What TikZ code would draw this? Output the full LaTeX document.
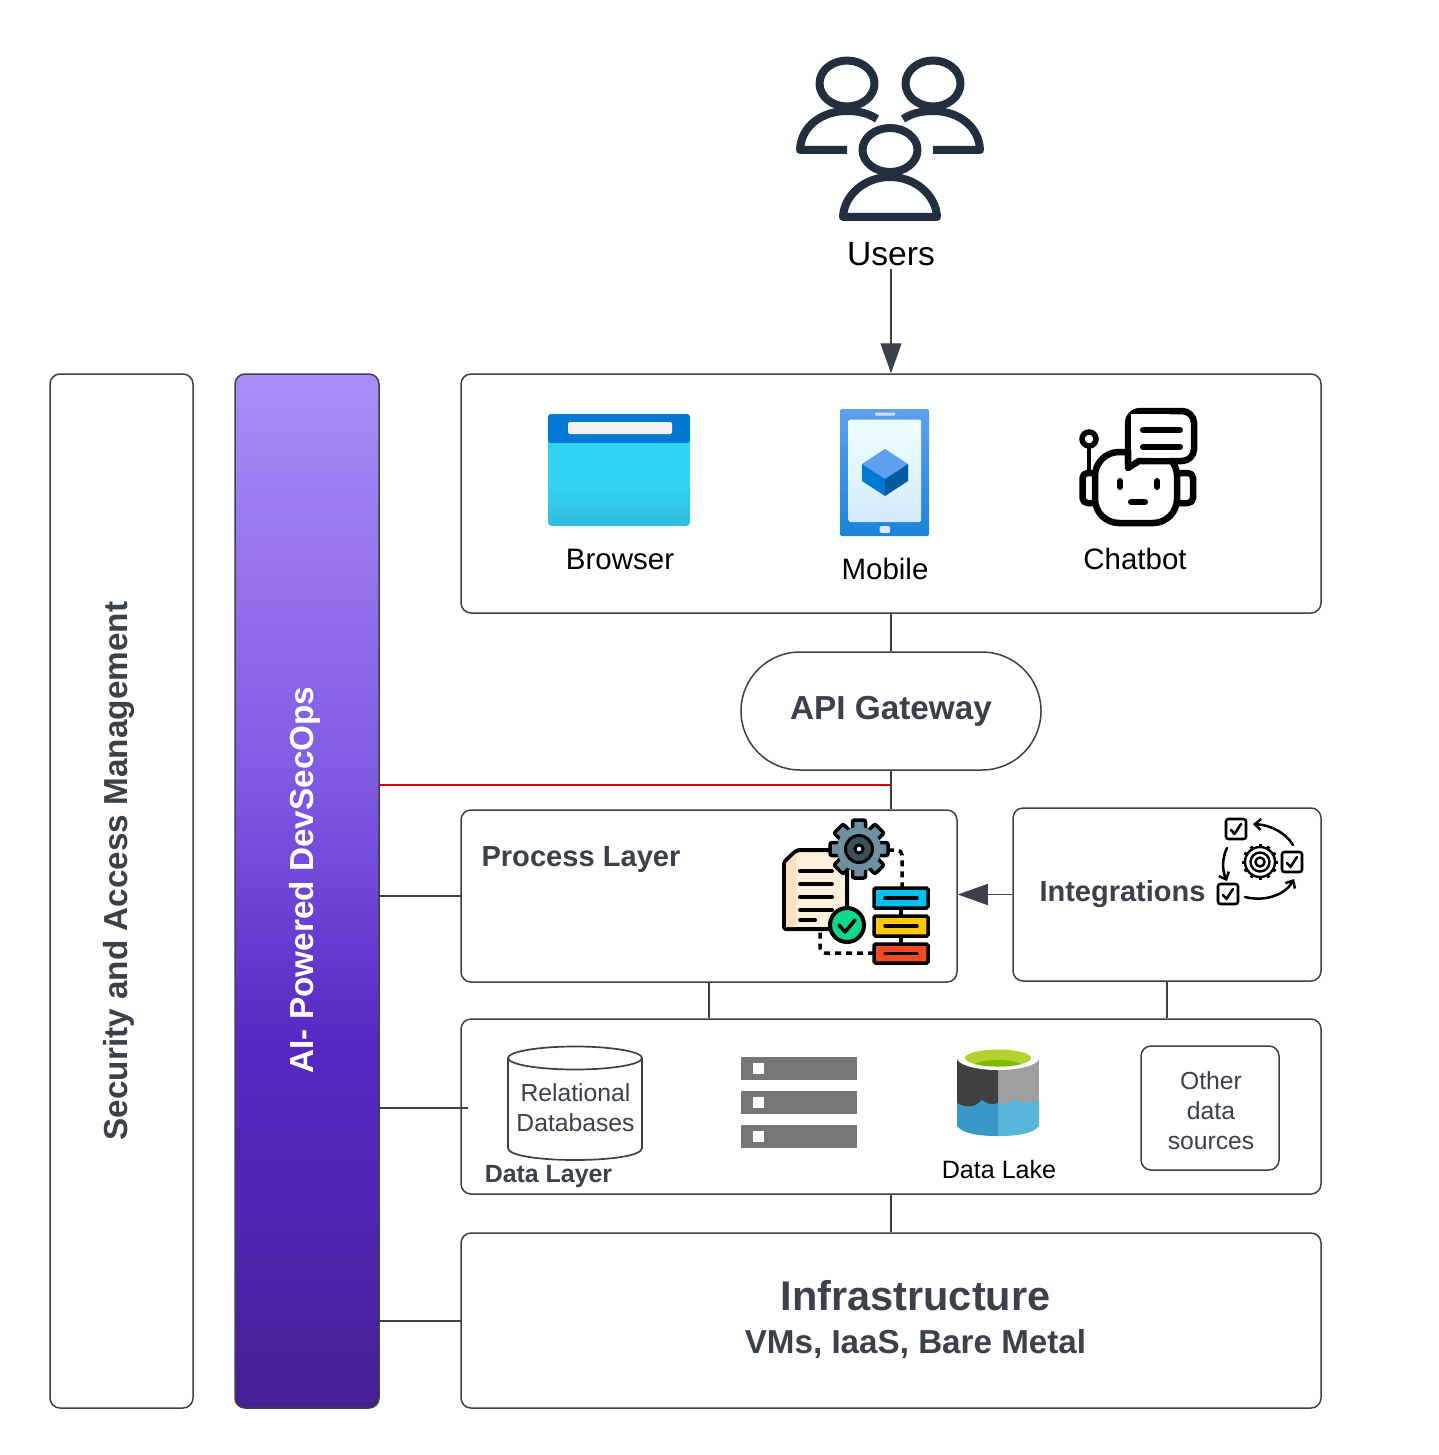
\documentclass[tikz,border=0pt]{standalone}
\usepackage{fontspec}
\setmainfont{Liberation Sans}
\usetikzlibrary{arrows.meta}
\definecolor{edge}{HTML}{3A414A}
\definecolor{usercol}{HTML}{232F3E}
\definecolor{gearcol}{HTML}{6F909F}
\definecolor{devA}{HTML}{A98DF7}
\definecolor{devE}{HTML}{7F58E2}
\definecolor{devD}{HTML}{5628C2}
\definecolor{devC}{HTML}{4E24AE}
\definecolor{devB}{HTML}{432091}
\definecolor{skyA}{HTML}{32D4F5}
\definecolor{skyB}{HTML}{2FBCDC}
\definecolor{phoneA}{HTML}{5EA0EF}
\definecolor{phoneB}{HTML}{1B83DB}
\definecolor{glassA}{HTML}{F0FEFF}
\definecolor{glassB}{HTML}{D3EAFD}
\definecolor{sheet}{HTML}{FCEFDC}
\definecolor{sheetdark}{HTML}{FADFC0}
\pgfdeclareverticalshading{devsecfill}{100bp}{
  color(0bp)=(devB); color(25bp)=(devB); color(32.5bp)=(devC); color(42.5bp)=(devD);
  color(55bp)=(devE); color(75bp)=(devA); color(100bp)=(devA)}
\tikzset{
  layer/.style={draw=edge, line width=1.5pt, rounded corners=10pt, inner sep=0pt, fill=white},
  wire/.style={draw=edge, line width=1.3pt},
  bigtip/.style={-{Triangle[length=30pt,width=21pt]}},
  plain/.style={inner sep=0pt, align=center, font=\fontsize{29.5}{34}\selectfont},
  small/.style={inner sep=0pt, align=center, text=edge, font=\fontsize{24.7}{30}\selectfont},
  boldtxt/.style={inner sep=0pt, align=center, text=edge, font=\fontsize{#1}{#1}\selectfont\bfseries},
  bot/.style={draw=black, line width=6.5pt, fill=white, line join=round},
  tick/.style={draw=black, line width=2.5pt, line cap=round, line join=round},
  person/.style={draw=usercol, line width=8pt, line join=round}
}
\begin{document}
\begin{tikzpicture}[x=1pt,y=-1pt]
  \useasboundingbox (0,0) rectangle (1438,1455);
  % columns on the left
  \node[layer, minimum width=143pt, minimum height=1034pt] (security) at (121.5,891) {};
  \node[layer, shading=devsecfill, shading angle=0, minimum width=144pt, minimum height=1034pt] (devsec) at (307,891) {};
  \node[boldtxt=33.3, rotate=90] (securitytxt) at (119,871) {Security and Access Management};
  \node[boldtxt=33.3, rotate=90, text=white] (devsectxt) at (304.5,880) {AI- Powered DevSecOps};
  % layers
  \node[layer, minimum width=860pt, minimum height=239pt] (clients) at (891,493.5) {};
  \node[layer, rounded corners=59pt, minimum width=300pt, minimum height=118pt] (api) at (891,711) {};
  \node[boldtxt=33.3] (apitxt) at (891,711) {API Gateway};
  \node[layer, minimum width=496pt, minimum height=172pt] (process) at (709,896) {};
  \node[layer, minimum width=308pt, minimum height=173pt] (integrations) at (1167,894.5) {};
  \node[layer, minimum width=860pt, minimum height=175pt] (data) at (891,1106.5) {};
  \node[layer, minimum width=860pt, minimum height=175pt] (infra) at (891,1320.5) {};
  \node[layer, minimum width=138pt, minimum height=124pt] (other) at (1210,1108) {};
  \node[small] (othertxt) at (1211,1111) {Other\\data\\sources};
  \node[boldtxt=29.1] (processtxt) at (581,859) {Process Layer};
  \node[boldtxt=29] (integrationstxt) at (1122.5,894) {Integrations};
  \node[boldtxt=24.9] (datatxt) at (548.5,1177) {Data Layer};
  \node[boldtxt=41.5] (infratxt) at (915.5,1296) {Infrastructure};
  \node[boldtxt=33.2] (vmstxt) at (915.5,1344) {VMs, IaaS, Bare Metal};
  % labels
  \node[plain, outer sep=3pt, font=\fontsize{33.6}{38}\selectfont] (users) at (891,254) {Users};
  \node[plain] (browsertxt) at (620,559) {Browser};
  \node[plain] (mobiletxt) at (885,569) {Mobile};
  \node[plain] (chatbottxt) at (1135,559) {Chatbot};
  \node[small] (dbtxt) at (575.5,1108) {Relational\\Databases};
  \node[small, text=black, font=\fontsize{25.1}{30}\selectfont] (laketxt) at (999,1170) {Data Lake};
  % connectors
  \coordinate (redjoin) at (891,785);
  \coordinate (procjoin) at (461,896);
  \coordinate (datajoin) at (468,1108);
  \coordinate (infrajoin) at (461,1321);
  \draw[wire, bigtip] (users) -- (clients);
  \draw[wire] (clients) -- (api);
  \draw[wire] (api) -- (process.north -| api);
  \draw[red!85!black, line width=1.3pt] (redjoin) -- (redjoin -| devsec.east);
  \draw[wire] (devsec.east |- procjoin) -- (procjoin);
  \draw[wire] (devsec.east |- datajoin) -- (datajoin);
  \draw[wire] (devsec.east |- infrajoin) -- (infrajoin);
  \draw[wire, bigtip] (integrations.west) -- (integrations.west -| process.east);
  \draw[wire] (process.south) -- (process.south |- data.north);
  \draw[wire] (integrations.south) -- (integrations.south |- data.north);
  \draw[wire] (data) -- (infra);
  % users icon
  \draw[person] (847,83.5) ellipse (27.5 and 23);
  \draw[person] (933,83.5) ellipse (27.5 and 23);
  \draw[person] (890,150) ellipse (27.5 and 22);
  \draw[person] (847,150) -- (800,150) .. controls (801,126) and (822,111) .. (847,111) .. controls (858,111) and (868,113) .. (877,119);
  \draw[person] (933,150) -- (980,150) .. controls (979,126) and (958,111) .. (933,111) .. controls (922,111) and (912,113) .. (903,119);
  \draw[person] (843,217) .. controls (844,195) and (865,177) .. (890,177) .. controls (915,177) and (936,195) .. (937,217) -- cycle;
  % browser icon
  \shade[top color=skyA, bottom color=skyB, middle color=skyA, rounded corners=4pt] (548,436) rectangle (690,526);
  \fill[fill={rgb,255:red,0;green,120;blue,212}, rounded corners=3pt] (548,443) -- (548,414) -- (690,414) -- (690,443) -- cycle;
  \fill[fill={rgb,255:red,242;green,242;blue,242}, rounded corners=1.5pt] (568,422) rectangle (672,434);
  % mobile icon
  \shade[top color=phoneA, bottom color=phoneB, rounded corners=2pt] (840,409) rectangle (929,536);
  \shade[top color=glassA, bottom color=glassB, rounded corners=1.5pt] (848.5,419.5) rectangle (921,522);
  \fill[white!85!blue, rounded corners=1pt] (875,412.5) rectangle (895,415.5);
  \fill[white!90!blue, rounded corners=1.5pt] (879.5,526) rectangle (890,533);
  \fill[fill={rgb,255:red,94;green,160;blue,239}] (885,449) -- (908,464) -- (885,479) -- (862,464) -- cycle;
  \fill[fill={rgb,255:red,0;green,120;blue,212}] (862,464) -- (885,479) -- (885,496) -- (862,481) -- cycle;
  \fill[fill={rgb,255:red,0;green,91;blue,161}] (908,464) -- (885,479) -- (885,496) -- (908,481) -- cycle;
  % chatbot icon
  \draw[bot, rounded corners=5pt] (1082.5,473) rectangle (1100,503);
  \draw[bot, rounded corners=5pt] (1173,473) rectangle (1193,503);
  \draw[bot, rounded corners=24pt] (1095,452) rectangle (1177,523);
  \draw[black, line width=4.5pt] (1089,446) -- (1089,473);
  \draw[black, line width=5.5pt, fill=white] (1089,439) circle (7);
  \draw[bot, rounded corners=12pt] (1128,466) -- (1128,411) -- (1194,411) -- (1194,461) -- (1150,461);
  \fill[white] (1131,414) rectangle (1170,458);
  \draw[bot] (1150,461) -- (1139,461) -- (1128,468) -- (1128,450);
  \foreach \rowy in {430,447}
    \draw[black, line width=6pt, line cap=round] (1143,\rowy) -- (1180,\rowy);
  \draw[black, line width=6pt, line cap=round] (1120,481) -- (1120,487);
  \draw[black, line width=6pt, line cap=round] (1157,481) -- (1157,487);
  \draw[black, line width=6pt, line cap=round] (1131,502) -- (1145,502);
  % process icon
  \draw[black, line width=4pt, fill=sheet, line join=round, rounded corners=2pt] (784,929) -- (784,862) -- (797,850) -- (847,850) -- (847,929) -- cycle;
  \fill[sheetdark] (786,927) -- (786,863) -- (796,853) -- (796,927) -- cycle;
  \foreach \rowy/\rowx in {871/832,884/832,897/832,910/832,920/815}
    \draw[black, line width=4pt, line cap=round] (800,\rowy) -- (\rowx,\rowy);
  \draw[black, line width=3.5pt, dash pattern=on 6pt off 5pt, rounded corners=5pt] (888,850) -- (902,850) -- (902,888);
  \draw[black, line width=3.5pt, dash pattern=on 6pt off 5pt, rounded corners=5pt] (874,953) -- (820,953) -- (820,930);
  \draw[black, line width=3.5pt] (901,908) -- (901,916);
  \draw[black, line width=3.5pt] (901,936) -- (901,944);
  \foreach \a in {0,45,...,315}
    \draw[black, line width=3.5pt, fill=gearcol, rounded corners=2pt, rotate around={\a:(859,849)}] (852.5,820) rectangle (865.5,836);
  \fill[gearcol] (859,849) circle (22);
  \draw[black, line width=3pt, fill=black!45!gearcol] (859,849) circle (13.5);
  \draw[black, line width=3pt, fill=white] (859,849) circle (4);
  \draw[black, line width=4pt, fill={rgb,255:red,16;green,216;blue,138}] (847,925) circle (17);
  \draw[black, line width=3.5pt, line cap=round, line join=round] (839,925) -- (845,932) -- (855,920);
  \foreach \boxy/\boxh/\boxcol in {888/20/00BDF2,916/20/FFC800,944/19/F24A21} {
    \definecolor{boxfill}{HTML}{\boxcol}
    \draw[black, line width=3.5pt, fill=boxfill, rounded corners=1.5pt] (874,\boxy) rectangle (928,\boxy+\boxh);
    \draw[black, line width=3.5pt, line cap=round] (885,\boxy+\boxh/2) -- (917,\boxy+\boxh/2);
  }
  % integrations icon
  \foreach \cx/\cy in {1236/829,1292/862,1228/894} {
    \draw[black, line width=2.6pt, rounded corners=2.5pt] (\cx-10,\cy-10) rectangle (\cx+10,\cy+10);
    \draw[tick] (\cx-5,\cy+1) -- (\cx-1.5,\cy+5) -- (\cx+5,\cy-5);
  }
  \draw[tick, -{Straight Barb[length=6pt,width=11pt]}] (1293,845) .. controls (1285,832) and (1270,825) .. (1253,824);
  \draw[tick, -{Straight Barb[length=6pt,width=11pt]}] (1227,848) .. controls (1222,858) and (1222,870) .. (1227,881);
  \draw[tick, -{Straight Barb[length=6pt,width=11pt]}] (1245,897) .. controls (1265,902) and (1285,895) .. (1294,879);
  \draw[black, line width=2.4pt] (1260,862) circle (15);
  \foreach \a in {0,30,...,330}
    \draw[black, line width=3pt, rotate around={\a:(1260,862)}] (1260,844) -- (1260,848);
  \draw[black, line width=2.4pt] (1260,862) circle (9.5);
  \draw[black, line width=2.4pt] (1260,862) circle (4.5);
  % relational databases
  \draw[edge, line width=1.7pt] (508,1058) -- (508,1148) .. controls (508,1164) and (642,1164) .. (642,1148) -- (642,1058);
  \draw[edge, line width=1.7pt] (575,1058) ellipse (67 and 11.5);
  % server stack
  \foreach \rowy in {1057,1091,1125} {
    \fill[fill={rgb,255:red,118;green,118;blue,118}] (741,\rowy) rectangle (857,\rowy+22.5);
    \fill[white] (752.5,\rowy+5.5) rectangle (764,\rowy+17);
  }
  % data lake
  \fill[fill={rgb,255:red,64;green,64;blue,64}] (957,1058) rectangle (998,1115);
  \fill[fill={rgb,255:red,158;green,158;blue,158}] (998,1058) rectangle (1039,1115);
  \fill[fill={rgb,255:red,57;green,153;blue,198}] (957,1103) .. controls (965,1108) and (975,1108) .. (982,1100) .. controls (987,1105) and (993,1105) .. (998,1103) -- (998,1136) .. controls (980,1136) and (963,1134) .. (957,1126) -- cycle;
  \fill[fill={rgb,255:red,89;green,180;blue,217}] (998,1103) .. controls (1005,1105) and (1009,1104) .. (1013,1099) .. controls (1020,1104) and (1030,1103) .. (1039,1100) -- (1039,1126) .. controls (1033,1134) and (1016,1136) .. (998,1136) -- cycle;
  \fill[white] (998,1058) ellipse (41 and 12);
  \fill[fill={rgb,255:red,180;green,210;blue,45}] (998,1058) ellipse (33 and 8.5);
  \begin{scope}
    \clip (998,1058) ellipse (33 and 8.5);
    \fill[fill={rgb,255:red,127;green,186;blue,0}] (998,1067) ellipse (26 and 7);
  \end{scope}
\end{tikzpicture}
\end{document}
